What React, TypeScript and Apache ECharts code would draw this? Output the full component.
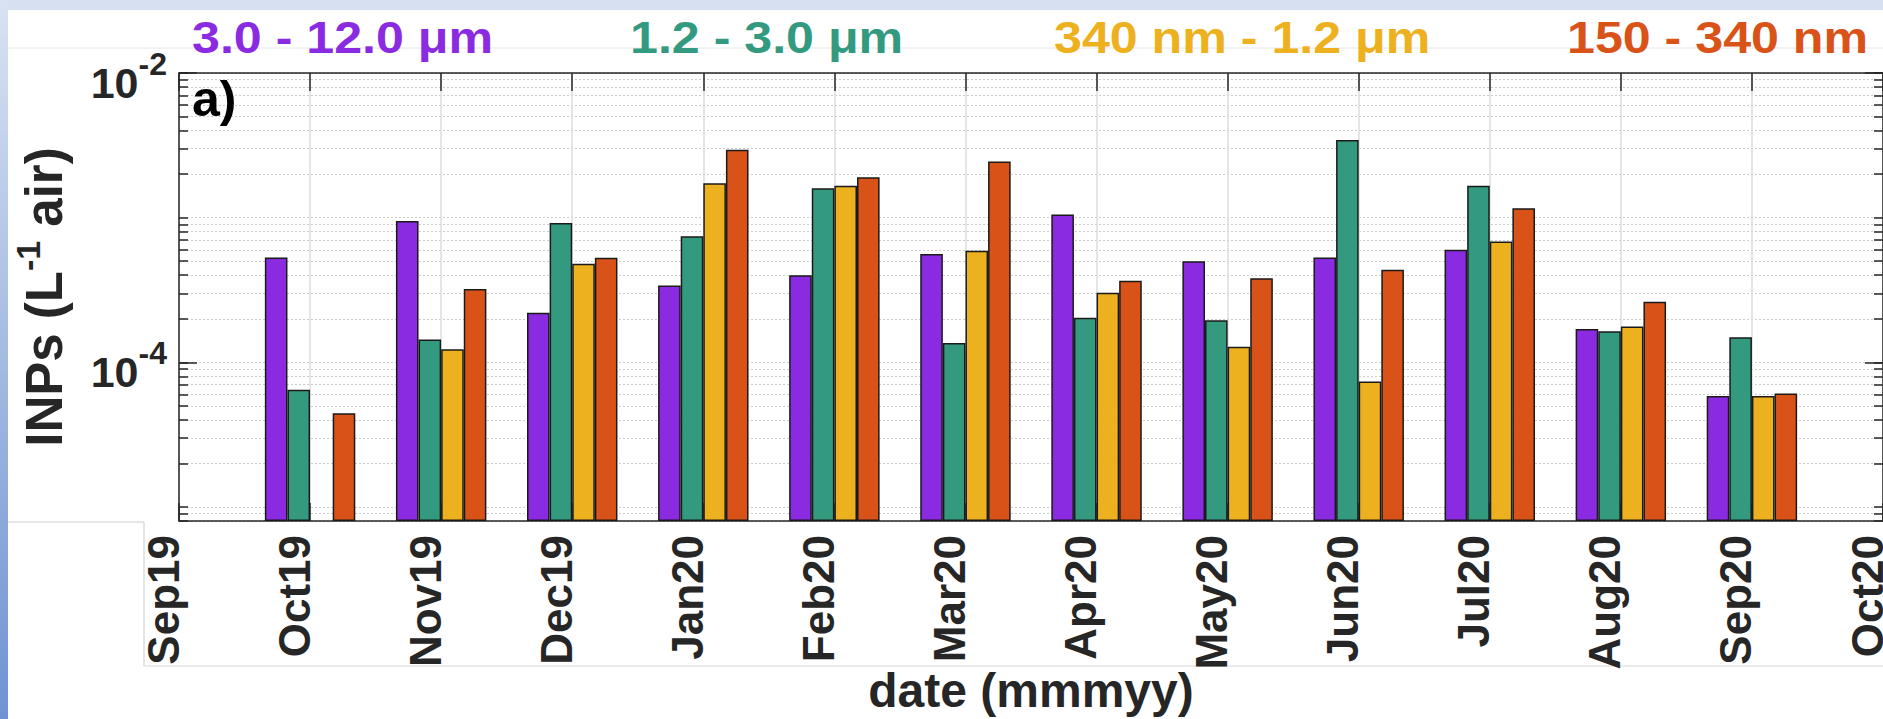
import React, { useEffect, useRef } from 'react';
import * as echarts from 'echarts';

// ---- data ----
const MONTHS = ['Sep19', 'Oct19', 'Nov19', 'Dec19', 'Jan20', 'Feb20', 'Mar20', 'Apr20', 'May20', 'Jun20', 'Jul20', 'Aug20', 'Sep20', 'Oct20'];
const SIZE_BINS = ['3.0 - 12.0 μm', '1.2 - 3.0 μm', '340 nm - 1.2 μm', '150 - 340 nm'];
const INP_3_12UM = [null, 5.3e-4, 9.5e-4, 2.2e-4, 3.4e-4, 4.0e-4, 5.6e-4, 1.05e-3, 5.0e-4, 5.3e-4, 6.0e-4, 1.7e-4, 5.85e-5, null];
const INP_1_3UM = [null, 6.45e-5, 1.44e-4, 9.2e-4, 7.45e-4, 1.6e-3, 1.36e-4, 2.03e-4, 1.95e-4, 3.44e-3, 1.66e-3, 1.64e-4, 1.49e-4, null];
const INP_340NM_1UM = [null, null, 1.23e-4, 4.8e-4, 1.73e-3, 1.66e-3, 5.9e-4, 3.03e-4, 1.28e-4, 7.37e-5, 6.85e-4, 1.77e-4, 5.85e-5, null];
const INP_150_340NM = [null, 4.44e-5, 3.21e-4, 5.28e-4, 2.95e-3, 1.9e-3, 2.44e-3, 3.67e-4, 3.81e-4, 4.36e-4, 1.16e-3, 2.62e-4, 6.08e-5, null];
const Y_MIN = 8e-6;
const Y_MAX = 1e-2;
const Y_LABEL_TICKS = [1e-4, 1e-2];
const Y_MINOR_TICKS = [
  8e-6, 9e-6,
  1e-5, 2e-5, 3e-5, 4e-5, 5e-5, 6e-5, 7e-5, 8e-5, 9e-5,
  1e-4, 2e-4, 3e-4, 4e-4, 5e-4, 6e-4, 7e-4, 8e-4, 9e-4,
  1e-3, 2e-3, 3e-3, 4e-3, 5e-3, 6e-3, 7e-3, 8e-3, 9e-3,
  1e-2,
];
const Y_NAME = '{n|INPs (L}{s|-1}{n| air)}';
const X_NAME = 'date (mmmyy)';
const PANEL_TAG = 'a)';

const COLORS = ['#8A2BE2', '#339A80', '#EDB120', '#D95319'];
const SERIES = [INP_3_12UM, INP_1_3UM, INP_340NM_1UM, INP_150_340NM];

export default function App() {
  const ref = useRef<HTMLDivElement>(null);

  useEffect(() => {
    if (!ref.current) return;
    const chart = echarts.init(ref.current, null, { renderer: 'svg' });
    const FONT = '"Liberation Sans", Arial, Helvetica, sans-serif';
    const INK = '#262626';
    const axisLineStyle = { color: INK, width: 1.5 };

    const logBase = {
      type: 'log',
      logBase: 10,
      min: Y_MIN,
      max: Y_MAX,
      startValue: Y_MIN,
    };

    const titleX = [192, 630, 1054, 1567];

    const option: any = {
      animation: false,
      backgroundColor: '#ffffff',
      grid: { left: 179, right: 0, top: 73, bottom: 198, containLabel: false, outerBoundsMode: 'none' },
      xAxis: [
        {
          type: 'category',
          data: MONTHS,
          boundaryGap: false,
          position: 'bottom',
          axisLine: { show: true, onZero: false, lineStyle: axisLineStyle },
          axisTick: { show: true, inside: true, length: 18, lineStyle: axisLineStyle },
          axisLabel: {
            show: true, interval: 0, rotate: 90, margin: 14,
            fontSize: 44, fontWeight: 'bold', fontFamily: FONT, color: INK,
            verticalAlign: 'bottom', lineHeight: 32,
          },
          splitLine: { show: true, lineStyle: { color: '#dddddd', width: 1.5, type: 'solid' } },
          name: X_NAME,
          nameLocation: 'middle',
          nameGap: 149,
          nameMoveOverlap: false,
          nameTextStyle: { fontSize: 48, fontWeight: 'bold', fontFamily: FONT, color: INK, lineHeight: 40 },
        },
        {
          type: 'category',
          data: MONTHS,
          boundaryGap: false,
          position: 'top',
          axisLine: { show: true, onZero: false, lineStyle: axisLineStyle },
          axisTick: { show: true, inside: true, length: 18, lineStyle: axisLineStyle },
          axisLabel: { show: false },
          splitLine: { show: false },
        },
      ],
      yAxis: [
        {
          ...logBase,
          position: 'left',
          axisLine: { show: true, lineStyle: axisLineStyle },
          axisTick: { show: true, inside: true, length: 9, customValues: Y_MINOR_TICKS, lineStyle: axisLineStyle },
          axisLabel: {
            show: true,
            customValues: Y_LABEL_TICKS,
            margin: 12,
            padding: [20, 0, 0, 0],
            formatter: (v: number) => `{b|10}{s|${Math.round(Math.log10(v))}}`,
            rich: {
              b: { fontSize: 43, fontWeight: 'bold', fontFamily: FONT, color: INK, lineHeight: 70 },
              s: { fontSize: 32, fontWeight: 'bold', fontFamily: FONT, color: INK, lineHeight: 32, verticalAlign: 'top' },
            },
          },
          splitLine: { show: true, lineStyle: { color: '#cccccc', width: 1, type: [2, 2] } },
          name: Y_NAME,
          nameLocation: 'middle',
          nameRotate: 90,
          nameGap: 102,
          nameMoveOverlap: false,
          nameTextStyle: {
            rich: {
              n: { fontSize: 51, fontWeight: 'bold', fontFamily: FONT, color: INK, lineHeight: 66 },
              s: { fontSize: 34, fontWeight: 'bold', fontFamily: FONT, color: INK, lineHeight: 34, verticalAlign: 'top' },
            },
          },
        },
        {
          ...logBase,
          position: 'left',
          axisLine: { show: false },
          axisTick: { show: true, inside: true, length: 18, customValues: Y_LABEL_TICKS, lineStyle: axisLineStyle },
          axisLabel: { show: false },
          splitLine: { show: false },
        },
        {
          ...logBase,
          position: 'right',
          axisLine: { show: true, lineStyle: axisLineStyle },
          axisTick: { show: true, inside: true, length: 9, customValues: Y_MINOR_TICKS, lineStyle: axisLineStyle },
          axisLabel: { show: false },
          splitLine: { show: false },
        },
        {
          ...logBase,
          position: 'right',
          axisLine: { show: false },
          axisTick: { show: true, inside: true, length: 18, customValues: Y_LABEL_TICKS, lineStyle: axisLineStyle },
          axisLabel: { show: false },
          splitLine: { show: false },
        },
      ],
      series: SERIES.map((data, i) => ({
        type: 'bar',
        name: SIZE_BINS[i],
        data,
        xAxisIndex: 0,
        yAxisIndex: 0,
        barGap: '0%',
        barCategoryGap: '31%',
        itemStyle: { color: COLORS[i], borderColor: '#1a1a1a', borderWidth: 1.5 },
      })),
      graphic: [
        { type: 'rect', silent: true, z: 0, shape: { x: 0, y: 0, width: 1883, height: 10 }, style: { fill: '#d6e0f1' } },
        {
          type: 'rect', silent: true, z: 0, shape: { x: 0, y: 0, width: 8, height: 719 },
          style: {
            fill: new echarts.graphic.LinearGradient(0, 0, 0, 1, [
              { offset: 0, color: '#d8e2f2' },
              { offset: 1, color: '#6f93d2' },
            ]),
          },
        },
        { type: 'line', silent: true, z: 0, shape: { x1: 8, y1: 48, x2: 1883, y2: 48 }, style: { stroke: '#e6e6e6', lineWidth: 1 } },
        { type: 'line', silent: true, z: 0, shape: { x1: 8, y1: 522, x2: 144, y2: 522 }, style: { stroke: '#cccccc', lineWidth: 1 } },
        { type: 'line', silent: true, z: 0, shape: { x1: 144, y1: 522, x2: 144, y2: 666 }, style: { stroke: '#cccccc', lineWidth: 1 } },
        { type: 'line', silent: true, z: 0, shape: { x1: 144, y1: 666, x2: 1883, y2: 666 }, style: { stroke: '#d6d6d6', lineWidth: 1 } },
        ...SIZE_BINS.map((t, i) => ({
          type: 'text',
          silent: true,
          z: 10,
          x: titleX[i],
          y: 37.5,
          scaleX: 1.14,
          style: {
            text: t,
            fill: COLORS[i],
            font: `bold 44px ${FONT}`,
            align: 'left',
            verticalAlign: 'middle',
          },
        })),
        {
          type: 'text', silent: true, z: 10, x: 192, y: 99,
          style: { text: PANEL_TAG, fill: '#000000', font: `bold 50px ${FONT}`, align: 'left', verticalAlign: 'middle' },
        },
      ],
    };

    chart.setOption(option);
    return () => chart.dispose();
  }, []);

  return (
    <div
      ref={ref}
      style={{ position: 'fixed', left: 0, top: 0, width: 1883, height: 719, background: '#fff' }}
    />
  );
}
